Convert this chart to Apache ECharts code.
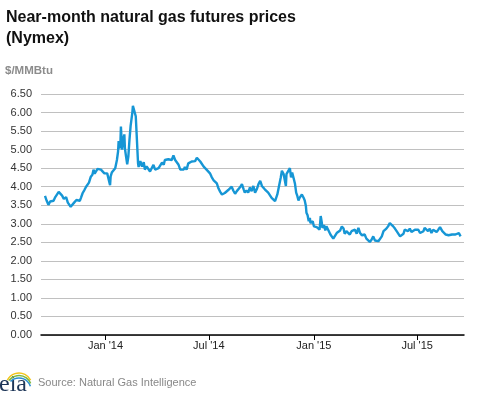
<!DOCTYPE html>
<html>
<head>
<meta charset="utf-8">
<script src="https://cdn.jsdelivr.net/npm/echarts@6/dist/echarts.min.js"></script>
<style>html,body{margin:0;padding:0;background:#fff}#c{width:477px;height:393px}</style>
</head>
<body>
<div id="c"></div>
<script>
const titleText = 'Near-month natural gas futures prices\n(Nymex)';
const unitText = '$/MMBtu';
const sourceText = 'Source: Natural Gas Intelligence';
const xTickDates = ['2014-01-01', '2014-07-01', '2015-01-01', '2015-07-01'];
const xMin = '2013-09-10';
const xMax = '2015-09-21';
const yMin = 0, yMax = 6.5, yStep = 0.5;

const dates = [
'2013-09-17','2013-09-20','2013-09-23','2013-09-26','2013-09-29','2013-10-02','2013-10-05','2013-10-08','2013-10-11','2013-10-14',
'2013-10-17','2013-10-20','2013-10-22','2013-10-24','2013-10-27','2013-10-29','2013-11-01','2013-11-04','2013-11-07','2013-11-11',
'2013-11-14','2013-11-17','2013-11-19','2013-11-22','2013-11-25','2013-11-28','2013-12-01','2013-12-03','2013-12-06','2013-12-09',
'2013-12-11','2013-12-13','2013-12-15','2013-12-18','2013-12-21','2013-12-24','2013-12-27','2013-12-30','2014-01-02','2014-01-04',
'2014-01-07','2014-01-09','2014-01-10','2014-01-12','2014-01-15','2014-01-18','2014-01-21','2014-01-23','2014-01-24','2014-01-25',
'2014-01-27','2014-01-28','2014-01-30','2014-02-01','2014-02-03','2014-02-04','2014-02-06','2014-02-08','2014-02-10','2014-02-12',
'2014-02-14','2014-02-17','2014-02-18','2014-02-21','2014-02-23','2014-02-25','2014-02-27','2014-02-28','2014-03-03','2014-03-06',
'2014-03-09','2014-03-11','2014-03-14','2014-03-17','2014-03-20','2014-03-23','2014-03-26','2014-03-29','2014-04-01','2014-04-04',
'2014-04-07','2014-04-10','2014-04-13','2014-04-15','2014-04-18','2014-04-21','2014-04-24','2014-04-27','2014-04-30','2014-05-03',
'2014-05-06','2014-05-09','2014-05-12','2014-05-15','2014-05-18','2014-05-20','2014-05-23','2014-05-26','2014-05-29','2014-06-01',
'2014-06-04','2014-06-07','2014-06-10','2014-06-13','2014-06-16','2014-06-19','2014-06-22','2014-06-24','2014-06-27','2014-06-30',
'2014-07-03','2014-07-06','2014-07-09','2014-07-12','2014-07-15','2014-07-18','2014-07-21','2014-07-24','2014-07-27','2014-07-29',
'2014-08-01','2014-08-04','2014-08-07','2014-08-10','2014-08-13','2014-08-16','2014-08-19','2014-08-22','2014-08-25','2014-08-28',
'2014-08-31','2014-09-02','2014-09-05','2014-09-08','2014-09-11','2014-09-14','2014-09-17','2014-09-20','2014-09-23','2014-09-26',
'2014-09-29','2014-10-02','2014-10-05','2014-10-07','2014-10-10','2014-10-13','2014-10-16','2014-10-19','2014-10-22','2014-10-25',
'2014-10-27','2014-10-29','2014-11-01','2014-11-04','2014-11-06','2014-11-09','2014-11-11','2014-11-13','2014-11-14','2014-11-17',
'2014-11-20','2014-11-22','2014-11-24','2014-11-27','2014-11-29','2014-12-01','2014-12-03','2014-12-05','2014-12-07','2014-12-09',
'2014-12-11','2014-12-14','2014-12-16','2014-12-18','2014-12-19','2014-12-21','2014-12-23','2014-12-25','2014-12-26','2014-12-28',
'2014-12-30','2015-01-01','2015-01-04','2015-01-06','2015-01-08','2015-01-11','2015-01-13','2015-01-15','2015-01-16','2015-01-19',
'2015-01-21','2015-01-23','2015-01-26','2015-01-28','2015-01-30','2015-02-02','2015-02-04','2015-02-07','2015-02-10','2015-02-13',
'2015-02-16','2015-02-19','2015-02-22','2015-02-24','2015-02-27','2015-03-02','2015-03-05','2015-03-08','2015-03-11','2015-03-14',
'2015-03-17','2015-03-20','2015-03-23','2015-03-26','2015-03-29','2015-03-31','2015-04-03','2015-04-06','2015-04-09','2015-04-12',
'2015-04-15','2015-04-18','2015-04-21','2015-04-24','2015-04-27','2015-04-30','2015-05-03','2015-05-05','2015-05-08','2015-05-11',
'2015-05-14','2015-05-17','2015-05-20','2015-05-23','2015-05-26','2015-05-29','2015-06-01','2015-06-04','2015-06-07','2015-06-09',
'2015-06-12','2015-06-15','2015-06-18','2015-06-21','2015-06-24','2015-06-27','2015-06-30','2015-07-03','2015-07-06','2015-07-09',
'2015-07-12','2015-07-14','2015-07-17','2015-07-20','2015-07-23','2015-07-26','2015-07-29','2015-08-01','2015-08-04','2015-08-07',
'2015-08-10','2015-08-11','2015-08-14','2015-08-17','2015-08-20','2015-08-23','2015-08-25','2015-08-28','2015-08-31','2015-09-03',
'2015-09-06','2015-09-09','2015-09-12','2015-09-15'
];

const prices = [
3.75,3.62,3.51,3.60,3.55,3.62,3.72,3.76,3.86,3.81,
3.76,3.67,3.62,3.72,3.57,3.62,3.46,3.50,3.57,3.64,
3.67,3.62,3.70,3.83,3.91,4.00,4.02,4.11,4.26,4.32,
4.46,4.35,4.30,4.48,4.50,4.46,4.46,4.36,4.32,4.36,
4.35,4.04,4.28,4.38,4.41,4.50,4.72,4.95,5.23,5.03,
5.14,5.62,5.00,5.27,5.41,5.03,4.81,4.60,4.81,5.27,
5.64,6.00,6.18,6.18,5.90,5.27,4.63,4.53,4.69,4.54,
4.66,4.46,4.55,4.50,4.41,4.36,4.59,4.46,4.41,4.50,
4.53,4.65,4.59,4.72,4.76,4.74,4.76,4.72,4.84,4.72,
4.76,4.59,4.46,4.50,4.46,4.53,4.46,4.63,4.68,4.68,
4.72,4.69,4.78,4.76,4.68,4.72,4.54,4.50,4.46,4.46,
4.36,4.26,4.18,4.14,4.09,3.95,3.86,3.79,3.81,3.83,
3.83,3.91,3.95,4.00,3.89,3.81,3.88,3.91,3.99,4.07,
3.93,3.84,3.90,3.84,3.98,3.88,4.02,3.84,3.93,4.07,
4.16,4.02,3.98,3.93,3.90,3.84,3.79,3.70,3.66,3.61,
3.57,3.79,4.02,4.25,4.43,4.34,4.29,4.02,4.34,4.38,
4.50,4.25,4.38,4.20,4.07,3.84,3.75,3.63,3.70,3.66,
3.79,3.70,3.63,3.48,3.30,3.23,3.07,3.16,3.02,2.98,
3.07,2.93,2.98,2.91,2.93,2.84,3.21,3.02,2.89,2.96,
2.82,2.93,2.84,2.80,2.71,2.66,2.60,2.60,2.75,2.80,
2.82,2.93,2.87,2.73,2.80,2.84,2.71,2.80,2.75,2.84,
2.73,2.89,2.75,2.69,2.64,2.71,2.60,2.64,2.51,2.57,
2.66,2.55,2.60,2.53,2.48,2.66,2.80,2.78,2.87,2.93,
3.02,2.99,2.93,2.87,2.80,2.75,2.66,2.62,2.73,2.84,
2.87,2.80,2.87,2.78,2.82,2.84,2.80,2.84,2.75,2.71,
2.80,2.89,2.84,2.80,2.87,2.75,2.84,2.82,2.78,2.84,
2.91,2.96,2.80,2.75,2.71,2.66,2.69,2.66,2.71,2.66,
2.71,2.66,2.75,2.66
];

const monthNames = ['Jan','Feb','Mar','Apr','May','Jun','Jul','Aug','Sep','Oct','Nov','Dec'];
function toTs(s){ const p = s.split('-').map(Number); return Date.UTC(p[0], p[1]-1, p[2]); }
const seriesData = dates.map((d, i) => [toTs(d), prices[i]]);
const tickValues = xTickDates.map(toTs);

const chart = echarts.init(document.getElementById('c'), null, {renderer: 'canvas'});
const FONT = '"Liberation Sans", Arial, sans-serif';
chart.setOption({
  backgroundColor: '#ffffff',
  animation: false,
  title: {
    text: titleText,
    left: 6, top: 7, padding: 0,
    textStyle: {fontFamily: FONT, fontSize: 16, fontWeight: 'bold', color: '#111', lineHeight: 21}
  },
  grid: {left: 41, right: 13, top: 94, bottom: 58, containLabel: false},
  xAxis: {
    type: 'value',
    min: toTs(xMin), max: toTs(xMax),
    axisLine: {show: true, lineStyle: {color: '#000', width: 1.5}},
    axisTick: {show: true, customValues: tickValues, length: 5, lineStyle: {color: '#000', width: 1}},
    axisLabel: {
      customValues: tickValues,
      fontFamily: FONT, fontSize: 11, color: '#222', margin: 5,
      formatter: function (v) { const d = new Date(v); return monthNames[d.getUTCMonth()] + " '" + String(d.getUTCFullYear()).slice(2); }
    },
    splitLine: {show: false}
  },
  yAxis: {
    type: 'value',
    min: yMin, max: yMax, interval: yStep,
    axisLine: {show: false},
    axisTick: {show: false},
    axisLabel: {fontFamily: FONT, fontSize: 11, color: '#333', margin: 9, formatter: v => v.toFixed(2)},
    splitLine: {show: true, lineStyle: {color: '#c0c0c0', width: 1}}
  },
  series: [{
    type: 'line',
    data: seriesData,
    showSymbol: false,
    symbol: 'none',
    lineStyle: {color: '#1696d5', width: 2.4},
    z: 3
  }],
  graphic: [
    {type: 'text', left: 5, top: 65, style: {text: unitText, fontFamily: FONT, fontSize: 11.5, fontWeight: 'bold', fill: '#8c8c8c'}},
    {type: 'text', left: 38, top: 377, style: {text: sourceText, fontFamily: FONT, fontSize: 11, fill: '#888'}},
    {type: 'text', left: -1, top: 373, style: {text: 'eia', fontFamily: '"Liberation Serif", serif', fontSize: 24, fill: '#1d3557'}},
    {type: 'arc', shape: {cx: 19, cy: 386, r: 13, startAngle: -Math.PI*0.85, endAngle: -Math.PI*0.15}, style: {stroke: '#f2c418', lineWidth: 1.5, fill: null}},
    {type: 'arc', shape: {cx: 19, cy: 388, r: 12.5, startAngle: -Math.PI*0.8, endAngle: -Math.PI*0.12}, style: {stroke: '#7cb740', lineWidth: 1.5, fill: null}},
    {type: 'arc', shape: {cx: 19, cy: 390, r: 12, startAngle: -Math.PI*0.75, endAngle: -Math.PI*0.1}, style: {stroke: '#2c8fd0', lineWidth: 1.5, fill: null}}
  ]
});
</script>
</body>
</html>
